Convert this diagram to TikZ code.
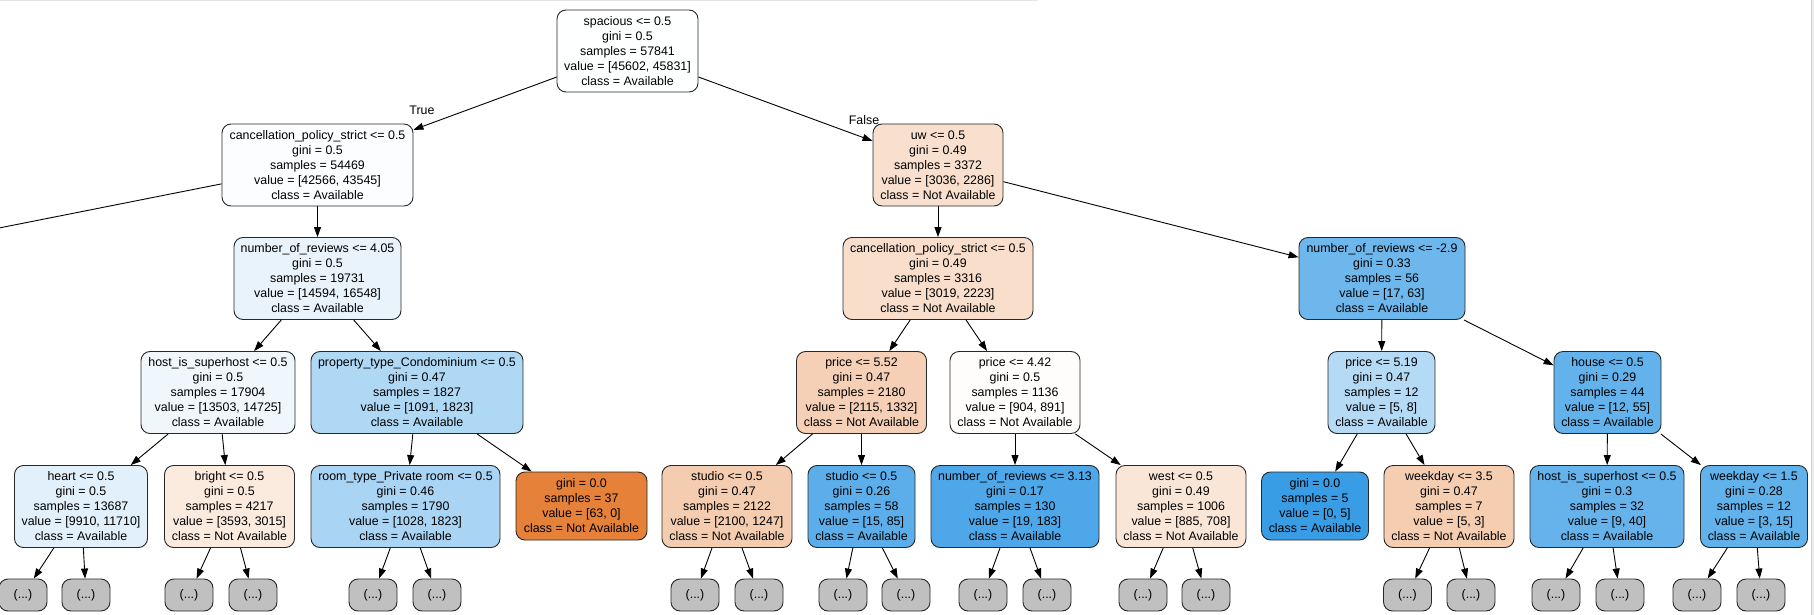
\documentclass[tikz,border=0pt]{standalone}
\usepackage{fontspec}
\setmainfont{Liberation Sans}
\usetikzlibrary{arrows.meta}
\definecolor{bdr}{RGB}{40,40,40}
\definecolor{leafgray}{RGB}{192,192,192}
\definecolor{cRoot}{RGB}{254,255,255}
\definecolor{cCancL}{RGB}{251,253,254}
\definecolor{cNorL}{RGB}{232,243,252}
\definecolor{cHostL}{RGB}{239,247,253}
\definecolor{cProp}{RGB}{175,216,245}
\definecolor{cHeart}{RGB}{225,240,251}
\definecolor{cBright}{RGB}{251,235,223}
\definecolor{cRoom}{RGB}{169,212,244}
\definecolor{cOrange}{RGB}{229,129,57}
\definecolor{cUw}{RGB}{249,224,206}
\definecolor{cCancR}{RGB}{248,222,203}
\definecolor{cNorB}{RGB}{110,183,236}
\definecolor{cPa}{RGB}{245,208,182}
\definecolor{cPb}{RGB}{255,253,252}
\definecolor{cPc}{RGB}{181,218,245}
\definecolor{cHouse}{RGB}{100,178,235}
\definecolor{cStL}{RGB}{244,204,175}
\definecolor{cStR}{RGB}{92,174,234}
\definecolor{cNorC}{RGB}{78,167,232}
\definecolor{cWest}{RGB}{250,230,215}
\definecolor{cBlue}{RGB}{57,157,229}
\definecolor{cWkA}{RGB}{245,205,176}
\definecolor{cHostR}{RGB}{102,179,235}
\definecolor{cWkB}{RGB}{97,177,234}
\tikzset{
  tn/.style={draw=bdr, line width=0.9pt, rounded corners=9pt, align=center,
    inner sep=0pt, minimum height=82pt, font=\fontsize{12.4}{15}\selectfont},
  tn4/.style={tn, minimum height=68pt},
  lf/.style={tn, fill=leafgray, minimum width=48pt, minimum height=32pt},
  edge/.style={-{Triangle[length=10pt,width=7pt]}, line width=0.9pt, draw=black},
  elabel/.style={font=\fontsize{12.4}{15}\selectfont, inner sep=0pt}
}
\begin{document}
\begin{tikzpicture}[x=1pt,y=-1pt]
\useasboundingbox (0,0) rectangle (1814,615);
\clip (0,0) rectangle (1814,615);
\fill[white] (0,0) rectangle (1814,615);
\draw[gray!20, line width=1.5pt] (0,0.75) -- (1038,0.75);
\fill[gray!15] (1810.5,0) rectangle (1814,615);
\draw[gray!35, line width=0.8pt] (1811,0) -- (1811,615);

% level 0
\node[tn, fill=cRoot, minimum width=141pt] (root) at (627.5,51)
  {spacious <= 0.5\\gini = 0.5\\samples = 57841\\value = [45602, 45831]\\class = Available};
% level 1
\node[tn, fill=cCancL, minimum width=191pt] (cancL) at (317.5,165)
  {cancellation\_policy\_strict <= 0.5\\gini = 0.5\\samples = 54469\\value = [42566, 43545]\\class = Available};
\node[tn, fill=cUw, minimum width=130pt] (uw) at (938,165)
  {uw <= 0.5\\gini = 0.49\\samples = 3372\\value = [3036, 2286]\\class = Not Available};
\coordinate (offl) at (-258,279);
% level 2
\node[tn, fill=cNorL, minimum width=167pt] (norL) at (317.5,278.5)
  {number\_of\_reviews <= 4.05\\gini = 0.5\\samples = 19731\\value = [14594, 16548]\\class = Available};
\node[tn, fill=cCancR, minimum width=190pt] (cancR) at (938,278.5)
  {cancellation\_policy\_strict <= 0.5\\gini = 0.49\\samples = 3316\\value = [3019, 2223]\\class = Not Available};
\node[tn, fill=cNorB, minimum width=166pt] (norB) at (1382,278.5)
  {number\_of\_reviews <= -2.9\\gini = 0.33\\samples = 56\\value = [17, 63]\\class = Available};
% level 3
\node[tn, fill=cHostL, minimum width=154pt] (hostL) at (218,392.5)
  {host\_is\_superhost <= 0.5\\gini = 0.5\\samples = 17904\\value = [13503, 14725]\\class = Available};
\node[tn, fill=cProp, minimum width=212pt] (prop) at (417,392.5)
  {property\_type\_Condominium <= 0.5\\gini = 0.47\\samples = 1827\\value = [1091, 1823]\\class = Available};
\node[tn, fill=cPa, minimum width=130pt] (pa) at (861.5,392.5)
  {price <= 5.52\\gini = 0.47\\samples = 2180\\value = [2115, 1332]\\class = Not Available};
\node[tn, fill=cPb, minimum width=130pt] (pb) at (1015,392.5)
  {price <= 4.42\\gini = 0.5\\samples = 1136\\value = [904, 891]\\class = Not Available};
\node[tn, fill=cPc, minimum width=107pt] (pc) at (1381.5,392.5)
  {price <= 5.19\\gini = 0.47\\samples = 12\\value = [5, 8]\\class = Available};
\node[tn, fill=cHouse, minimum width=107pt] (house) at (1607.5,392.5)
  {house <= 0.5\\gini = 0.29\\samples = 44\\value = [12, 55]\\class = Available};
% level 4
\node[tn, fill=cHeart, minimum width=133pt] (heart) at (81,506.5)
  {heart <= 0.5\\gini = 0.5\\samples = 13687\\value = [9910, 11710]\\class = Available};
\node[tn, fill=cBright, minimum width=130pt] (bright) at (229.5,506.5)
  {bright <= 0.5\\gini = 0.5\\samples = 4217\\value = [3593, 3015]\\class = Not Available};
\node[tn, fill=cRoom, minimum width=189pt] (room) at (405.5,506.5)
  {room\_type\_Private room <= 0.5\\gini = 0.46\\samples = 1790\\value = [1028, 1823]\\class = Available};
\node[tn4, fill=cOrange, minimum width=131pt] (orz) at (581.5,506)
  {gini = 0.0\\samples = 37\\value = [63, 0]\\class = Not Available};
\node[tn, fill=cStL, minimum width=130pt] (stL) at (727,506.5)
  {studio <= 0.5\\gini = 0.47\\samples = 2122\\value = [2100, 1247]\\class = Not Available};
\node[tn, fill=cStR, minimum width=107pt] (stR) at (861.5,506.5)
  {studio <= 0.5\\gini = 0.26\\samples = 58\\value = [15, 85]\\class = Available};
\node[tn, fill=cNorC, minimum width=168pt] (norC) at (1015,506.5)
  {number\_of\_reviews <= 3.13\\gini = 0.17\\samples = 130\\value = [19, 183]\\class = Available};
\node[tn, fill=cWest, minimum width=130pt] (west) at (1181,506.5)
  {west <= 0.5\\gini = 0.49\\samples = 1006\\value = [885, 708]\\class = Not Available};
\node[tn4, fill=cBlue, minimum width=107pt] (blz) at (1315,506)
  {gini = 0.0\\samples = 5\\value = [0, 5]\\class = Available};
\node[tn, fill=cWkA, minimum width=130pt] (wkA) at (1449,506.5)
  {weekday <= 3.5\\gini = 0.47\\samples = 7\\value = [5, 3]\\class = Not Available};
\node[tn, fill=cHostR, minimum width=154pt] (hostR) at (1607,506.5)
  {host\_is\_superhost <= 0.5\\gini = 0.3\\samples = 32\\value = [9, 40]\\class = Available};
\node[tn, fill=cWkB, minimum width=107pt] (wkB) at (1754,506.5)
  {weekday <= 1.5\\gini = 0.28\\samples = 12\\value = [3, 15]\\class = Available};
% leaves
\foreach \n/\x in {l1/23, l2/86, l3/189, l4/253, l5/373, l6/437,
  l7/695, l8/759, l9/843, l10/906, l11/983, l12/1047, l13/1143, l14/1206,
  l15/1407.5, l16/1471, l17/1556, l18/1620, l19/1697, l20/1761}
  \node[lf] (\n) at (\x,595) {(...)};

% edges
\draw[edge] (root) -- (cancL);
\draw[edge] (root) -- (uw);
\node[elabel] (tlab) at (422,110) {True};
\node[elabel] (flab) at (864,120) {False};
\draw[line width=0.9pt] (cancL) -- (offl);
\draw[edge] (cancL) -- (norL);
\draw[edge] (norL) -- (hostL);
\draw[edge] (norL) -- (prop);
\draw[edge] (hostL) -- (heart);
\draw[edge] (hostL) -- (bright);
\draw[edge] (prop) -- (room);
\draw[edge] (prop) -- (orz);
\draw[edge] (uw) -- (cancR);
\draw[edge] (uw) -- (norB);
\draw[edge] (cancR) -- (pa);
\draw[edge] (cancR) -- (pb);
\draw[edge] (pa) -- (stL);
\draw[edge] (pa) -- (stR);
\draw[edge] (pb) -- (norC);
\draw[edge] (pb) -- (west);
\draw[edge] (norB) -- (pc);
\draw[edge] (norB) -- (house);
\draw[edge] (pc) -- (blz);
\draw[edge] (pc) -- (wkA);
\draw[edge] (house) -- (hostR);
\draw[edge] (house) -- (wkB);
\foreach \p/\a/\b in {heart/l1/l2, bright/l3/l4, room/l5/l6, stL/l7/l8,
  stR/l9/l10, norC/l11/l12, west/l13/l14, wkA/l15/l16, hostR/l17/l18, wkB/l19/l20}
{
  \draw[edge] (\p) -- (\a);
  \draw[edge] (\p) -- (\b);
}
\end{tikzpicture}
\end{document}
